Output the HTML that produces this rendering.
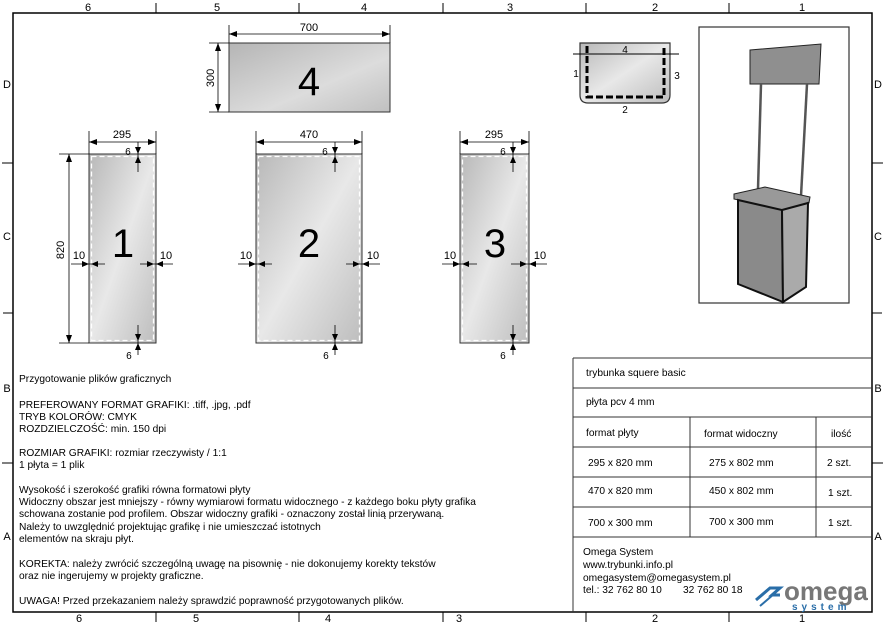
<!DOCTYPE html>
<html><head><meta charset="utf-8"><style>
body{margin:0;background:#fff}
svg{display:block;font-family:"Liberation Sans",sans-serif}
</style></head><body>
<svg width="888" height="625" viewBox="0 0 888 625" xmlns="http://www.w3.org/2000/svg">
<defs>
<linearGradient id="g" x1="0" y1="0" x2="1" y2="1"><stop offset="0" stop-color="#b8b8b8"/><stop offset="0.5" stop-color="#e8e8e8"/><stop offset="1" stop-color="#bdbdbd"/></linearGradient>
<linearGradient id="g4" x1="0" y1="0" x2="1" y2="1"><stop offset="0" stop-color="#b5b5b5"/><stop offset="0.6" stop-color="#dcdcdc"/><stop offset="1" stop-color="#c0c0c0"/></linearGradient>
<marker id="a" markerWidth="8" markerHeight="6" refX="8" refY="3" orient="auto-start-reverse" markerUnits="userSpaceOnUse"><path d="M0,0L8,3L0,6z" fill="#000"/></marker>
</defs>
<rect width="888" height="625" fill="#fff"/>
<!-- frame -->
<rect x="13" y="13" width="859" height="599" fill="none" stroke="#000" stroke-width="1.5"/>
<g stroke="#000" stroke-width="1">
<line x1="156" y1="3" x2="156" y2="13"/><line x1="299" y1="3" x2="299" y2="13"/><line x1="586" y1="3" x2="586" y2="13"/><line x1="729" y1="3" x2="729" y2="13"/>
<line x1="156" y1="612" x2="156" y2="622"/><line x1="299" y1="612" x2="299" y2="622"/><line x1="586" y1="612" x2="586" y2="622"/><line x1="729" y1="612" x2="729" y2="622"/>
<line x1="2" y1="163" x2="13" y2="163"/><line x1="2" y1="463" x2="13" y2="463"/>
<line x1="872" y1="163" x2="883" y2="163"/><line x1="872" y1="463" x2="883" y2="463"/>
<line x1="443" y1="3" x2="443" y2="13"/><line x1="443" y1="612" x2="443" y2="622"/>
<line x1="3" y1="313" x2="13" y2="313"/><line x1="872" y1="313" x2="882" y2="313"/>
</g>
<g font-size="11" text-anchor="middle">
<text x="88" y="11">6</text><text x="217" y="11">5</text><text x="364" y="11">4</text><text x="510" y="11">3</text><text x="655" y="11">2</text><text x="802" y="11">1</text>
<text x="79" y="622">6</text><text x="196" y="622">5</text><text x="328" y="622">4</text><text x="459" y="622">3</text><text x="655" y="622">2</text><text x="802" y="622">1</text>
<text x="7" y="88">D</text><text x="7" y="240">C</text><text x="7" y="392">B</text><text x="7" y="540">A</text>
<text x="878" y="88">D</text><text x="878" y="240">C</text><text x="878" y="392">B</text><text x="878" y="540">A</text>
</g>

<!-- panel 4 -->
<rect x="229" y="43" width="161" height="69" fill="url(#g4)" stroke="#333"/>
<text x="309" y="95" font-size="40" text-anchor="middle">4</text>
<g stroke="#000" stroke-width="0.8" fill="none">
<line x1="229" y1="25" x2="229" y2="43"/><line x1="390" y1="25" x2="390" y2="43"/>
<line x1="229" y1="34" x2="390" y2="34" marker-start="url(#a)" marker-end="url(#a)"/>
<line x1="209" y1="43" x2="229" y2="43"/><line x1="209" y1="112" x2="229" y2="112"/>
<line x1="218" y1="43" x2="218" y2="112" marker-start="url(#a)" marker-end="url(#a)"/>
</g>
<text x="309" y="31" font-size="11" text-anchor="middle">700</text>
<text transform="translate(214,78) rotate(-90)" font-size="11" text-anchor="middle">300</text>

<!-- panels 1,2,3 -->
<g id="p1">
<rect x="89" y="154" width="67" height="189" fill="url(#g)" stroke="#333"/>
<rect x="91.5" y="156.5" width="62" height="184" fill="none" stroke="#fff" stroke-width="1.3" stroke-dasharray="5,3"/>
</g>
<rect x="256" y="154" width="106" height="189" fill="url(#g)" stroke="#333"/>
<rect x="258.5" y="156.5" width="101" height="184" fill="none" stroke="#fff" stroke-width="1.3" stroke-dasharray="5,3"/>
<rect x="460" y="154" width="69" height="189" fill="url(#g)" stroke="#333"/>
<rect x="462.5" y="156.5" width="64" height="184" fill="none" stroke="#fff" stroke-width="1.3" stroke-dasharray="5,3"/>
<g font-size="40" text-anchor="middle"><text x="123" y="257">1</text><text x="309" y="257">2</text><text x="495" y="257">3</text></g>

<g stroke="#000" stroke-width="0.8" fill="none">
<!-- widths -->
<line x1="89" y1="131" x2="89" y2="154"/><line x1="156" y1="131" x2="156" y2="154"/>
<line x1="89" y1="142" x2="156" y2="142" marker-start="url(#a)" marker-end="url(#a)"/>
<line x1="256" y1="131" x2="256" y2="154"/><line x1="362" y1="131" x2="362" y2="154"/>
<line x1="256" y1="142" x2="362" y2="142" marker-start="url(#a)" marker-end="url(#a)"/>
<line x1="460" y1="131" x2="460" y2="154"/><line x1="529" y1="131" x2="529" y2="154"/>
<line x1="460" y1="142" x2="529" y2="142" marker-start="url(#a)" marker-end="url(#a)"/>
<!-- 820 -->
<line x1="59" y1="154" x2="89" y2="154"/><line x1="59" y1="343" x2="89" y2="343"/>
<line x1="69" y1="154" x2="69" y2="343" marker-start="url(#a)" marker-end="url(#a)"/>
<!-- 9 markers -->
<line x1="138" y1="142" x2="138" y2="172"/><line x1="335" y1="142" x2="335" y2="172"/><line x1="513" y1="142" x2="513" y2="172"/>
<line x1="138" y1="325" x2="138" y2="355"/><line x1="335" y1="325" x2="335" y2="355"/><line x1="513" y1="325" x2="513" y2="355"/>
<!-- 10 side -->
<line x1="71" y1="264" x2="105" y2="264"/><line x1="140" y1="264" x2="173" y2="264"/>
<line x1="238" y1="264" x2="272" y2="264"/><line x1="346" y1="264" x2="380" y2="264"/>
<line x1="442" y1="264" x2="477" y2="264"/><line x1="511" y1="264" x2="547" y2="264"/>
</g>
<g fill="#000">
<path d="M89,264l-7,-3v6z M91,264l7,-3v6z M156,264l7,-3v6z M154,264l-7,-3v6z"/>
<path d="M256,264l-7,-3v6z M258,264l7,-3v6z M362,264l7,-3v6z M360,264l-7,-3v6z"/>
<path d="M460,264l-7,-3v6z M462,264l7,-3v6z M529,264l7,-3v6z M527,264l-7,-3v6z"/>
<path d="M138,154l-3,-7h6z M138,156l-3,7h6z M335,154l-3,-7h6z M335,156l-3,7h6z M513,154l-3,-7h6z M513,156l-3,7h6z"/>
<path d="M138,343l-3,7h6z M138,341l-3,-7h6z M335,343l-3,7h6z M335,341l-3,-7h6z M513,343l-3,7h6z M513,341l-3,-7h6z"/>
</g>
<g font-size="11" text-anchor="middle">
<text x="122" y="138">295</text><text x="309" y="138">470</text><text x="494" y="138">295</text>
<text x="79" y="259">10</text><text x="166" y="259">10</text>
<text x="246" y="259">10</text><text x="373" y="259">10</text>
<text x="450" y="259">10</text><text x="540" y="259">10</text>
</g>
<text transform="translate(64,250) rotate(-90)" font-size="11" text-anchor="middle">820</text>
<g font-size="10" text-anchor="middle">
<text transform="translate(128,148) rotate(180)">9</text><text transform="translate(325,148) rotate(180)">9</text><text transform="translate(503,148) rotate(180)">9</text>
<text transform="translate(129,352) rotate(180)">9</text><text transform="translate(326,352) rotate(180)">9</text><text transform="translate(503,352) rotate(180)">9</text>
</g>

<!-- small top diagram -->
<path d="M580,43 H670 V95 Q670,103 662,103 H588 Q580,103 580,95 Z" fill="url(#g)" stroke="#333" stroke-width="1.2"/>
<path d="M587,46 V97 H664 V46" fill="none" stroke="#000" stroke-width="3" stroke-dasharray="7,3"/>
<line x1="573" y1="54" x2="679" y2="54" stroke="#000" stroke-width="1"/>
<g font-size="10" text-anchor="middle"><text x="625" y="53">4</text><text x="576" y="77">1</text><text x="677" y="79">3</text><text x="625" y="113">2</text></g>

<!-- stand picture -->
<rect x="699" y="27" width="150" height="276" fill="#fff" stroke="#333" stroke-width="1.2"/>
<polygon points="750,50 821,44 819,84 750,84" fill="#8f8f8f" stroke="#222"/>
<line x1="761" y1="84" x2="758" y2="189" stroke="#555" stroke-width="2.5"/>
<line x1="807" y1="84" x2="801" y2="196" stroke="#555" stroke-width="2.5"/>
<polygon points="734,194 765,187 810,197 809,203 782,210 734,199" fill="#999" stroke="#222"/>
<polygon points="738,200 782,210 783,302 738,284" fill="#8a8a8a" stroke="#111" stroke-width="2"/>
<polygon points="782,210 808,203 806,287 783,302" fill="#aaa" stroke="#111" stroke-width="2"/>

<!-- left text -->
<g font-size="10.2" fill="#000">
<text x="19" y="382">Przygotowanie plików graficznych</text>
<text x="19" y="408">PREFEROWANY FORMAT GRAFIKI: .tiff, .jpg, .pdf</text>
<text x="19" y="420">TRYB KOLORÓW: CMYK</text>
<text x="19" y="432">ROZDZIELCZOŚĆ: min. 150 dpi</text>
<text x="19" y="456">ROZMIAR GRAFIKI: rozmiar rzeczywisty / 1:1</text>
<text x="19" y="468">1 płyta = 1 plik</text>
<text x="19" y="493">Wysokość i szerokość grafiki równa formatowi płyty</text>
<text x="19" y="505">Widoczny obszar jest mniejszy - równy wymiarowi formatu widocznego - z każdego boku płyty grafika</text>
<text x="19" y="517">schowana zostanie pod profilem. Obszar widoczny grafiki - oznaczony został linią przerywaną.</text>
<text x="19" y="530">Należy to uwzględnić projektując grafikę i nie umieszczać istotnych</text>
<text x="19" y="542">elementów na skraju płyt.</text>
<text x="19" y="567">KOREKTA: należy zwrócić szczególną uwagę na pisownię - nie dokonujemy korekty tekstów</text>
<text x="19" y="579">oraz nie ingerujemy w projekty graficzne.</text>
<text x="19" y="604">UWAGA! Przed przekazaniem należy sprawdzić poprawność przygotowanych plików.</text>
</g>

<!-- table -->
<g stroke="#333" stroke-width="1" fill="none">
<line x1="573" y1="358" x2="573" y2="612"/>
<line x1="573" y1="358" x2="872" y2="358"/>
<line x1="573" y1="388" x2="872" y2="388"/>
<line x1="573" y1="417" x2="872" y2="417"/>
<line x1="573" y1="447" x2="872" y2="447"/>
<line x1="573" y1="477" x2="872" y2="477"/>
<line x1="573" y1="507" x2="872" y2="507"/>
<line x1="573" y1="537" x2="872" y2="537"/>
<line x1="690" y1="417" x2="690" y2="537"/>
<line x1="816" y1="417" x2="816" y2="537"/>
</g>
<g font-size="10.2">
<text x="586" y="376">trybunka squere basic</text>
<text x="586" y="405">płyta pcv 4 mm</text>
<text x="586" y="436">format płyty</text>
<text x="704" y="437">format widoczny</text>
<text x="831" y="437">ilość</text>
<text x="588" y="466">295 x 820 mm</text><text x="709" y="466">275 x 802 mm</text><text x="827" y="466">2 szt.</text>
<text x="588" y="494">470 x 820 mm</text><text x="709" y="494">450 x 802 mm</text><text x="828" y="496">1 szt.</text>
<text x="588" y="526">700 x 300 mm</text><text x="709" y="525">700 x 300 mm</text><text x="828" y="526">1 szt.</text>
<text x="583" y="555">Omega System</text>
<text x="583" y="568">www.trybunki.info.pl</text>
<text x="583" y="581">omegasystem@omegasystem.pl</text>
<text x="583" y="593">tel.: 32 762 80 10</text><text x="683" y="593">32 762 80 18</text>
</g>
<g>
<path d="M756,600 l14,-12 h10 l-8,7 h8" fill="none" stroke="#2a6ea8" stroke-width="3"/>
<path d="M760,606 l14,-12" fill="none" stroke="#2a6ea8" stroke-width="2"/>
<text x="784" y="600" font-size="26" font-weight="bold" fill="#777">omega</text>
<text x="792" y="610" font-size="10" font-weight="bold" fill="#2a6ea8" letter-spacing="4">system</text>
</g>
</svg>
</body></html>
